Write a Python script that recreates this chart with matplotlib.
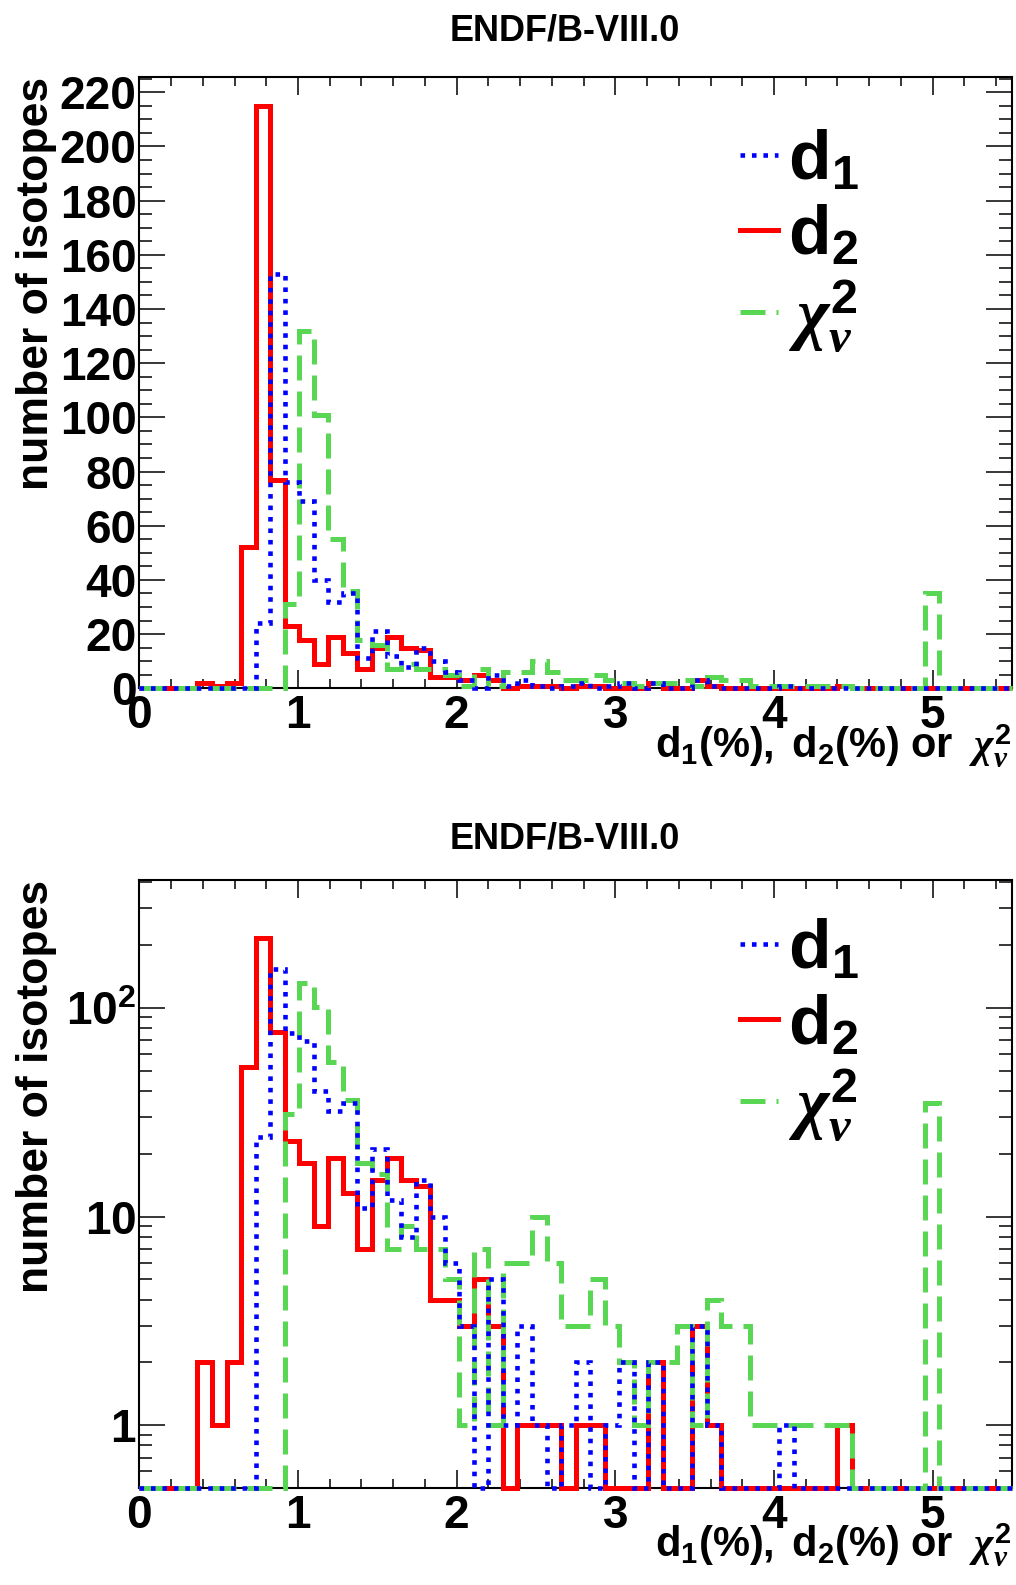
import numpy as np
import matplotlib
matplotlib.use('Agg')
import matplotlib.pyplot as plt
from matplotlib.lines import Line2D
from matplotlib.ticker import MultipleLocator, FixedLocator, FixedFormatter, NullFormatter

plt.rcParams['font.family'] = ['Liberation Sans', 'DejaVu Sans']
plt.rcParams['font.weight'] = 'bold'
plt.rcParams['mathtext.fontset'] = 'custom'
plt.rcParams['mathtext.rm'] = 'Liberation Sans:bold'
plt.rcParams['mathtext.bf'] = 'Liberation Sans:bold'
plt.rcParams['mathtext.it'] = 'Liberation Serif:italic'

# ---------------- data ----------------
x_min, x_max, n_bins = 0.0, 5.5, 60
bin_edges = np.linspace(x_min, x_max, n_bins + 1)

d2_counts = [0, 0, 0, 0, 2, 1, 2, 52, 215, 77,
             23, 18, 9, 19, 13, 7, 15, 19, 15, 14,
             4, 4, 3, 5, 3, 0, 1, 1, 1, 0,
             1, 1, 0, 0, 0, 2, 0, 0, 3, 1,
             0, 0, 0, 0, 0, 0, 0, 0, 1, 0,
             0, 0, 0, 0, 0, 0, 0, 0, 0, 0]

d1_counts = [0, 0, 0, 0, 0, 0, 0, 0, 24, 153,
             76, 69, 40, 32, 35, 11, 21, 12, 8, 15,
             10, 6, 3, 0, 5, 1, 3, 1, 0, 1,
             2, 0, 1, 2, 0, 2, 0, 0, 3, 1,
             0, 0, 0, 0, 1, 0, 0, 0, 0, 0,
             0, 0, 0, 0, 0, 0, 0, 0, 0, 0]

chi2_counts = [0, 0, 0, 0, 0, 0, 0, 0, 0, 0,
               31, 132, 101, 55, 36, 18, 16, 7, 9, 7,
               7, 5, 1, 7, 1, 6, 6, 10, 6, 3,
               3, 5, 3, 2, 1, 2, 2, 3, 1, 4,
               3, 3, 1, 1, 1, 1, 1, 1, 1, 0,
               0, 0, 0, 0, 35, 0, 0, 0, 0, 0]

series_labels = [r'$\mathbf{d_{1}}$', r'$\mathbf{d_{2}}$', r'$\chi^{\mathbf{2}}_{\nu}$']
title_text = 'ENDF/B-VIII.0'
ylabel_text = 'number of isotopes'
xlabel_text = r'$\mathbf{d_{1}(\%),\ d_{2}(\%)\ or}\ \ \chi^{\mathbf{2}}_{\nu}$'
lin_yticks = list(range(0, 221, 20))
log_yticks = [1, 10, 100]
log_yticklabels = [r'$\mathbf{1}$', r'$\mathbf{10}$', r'$\mathbf{10^{2}}$']

# ---------------- styles ----------------
c_blue = '#0000ff'
c_red = '#ff0000'
c_green = '#5ad655'
lw = 3.6
sty_d1 = dict(color=c_blue, lw=3.3, linestyle=(0, (1.0, 1.5)))
sty_d2 = dict(color=c_red, lw=lw, linestyle='-')
sty_chi = dict(color=c_green, lw=lw, linestyle=(0, (5.0, 2.2)))

W, H = 1016, 1585
fig = plt.figure(figsize=(W / 100, H / 100), dpi=100)

ax_l = 139.3 / W
ax_w = (1012 - 139.3) / W
ax_top = fig.add_axes([ax_l, 1 - 688.3 / H, ax_w, (688.3 - 76.7) / H])
ax_bot = fig.add_axes([ax_l, 1 - 1488.0 / H, ax_w, (1488.0 - 880.0) / H])

d1 = np.array(d1_counts, dtype=float)
d2 = np.array(d2_counts, dtype=float)
chi = np.array(chi2_counts, dtype=float)


def draw(ax, logy, leg_y):
    floor = 0.5 if logy else 0.0
    def f(v):
        return np.where(v > 0, v, floor)
    ax.stairs(f(d2), bin_edges, baseline=None, fill=False, clip_on=False, zorder=3, **sty_d2)
    ax.stairs(f(chi), bin_edges, baseline=None, fill=False, clip_on=False, zorder=4, **sty_chi)
    ax.stairs(f(d1), bin_edges, baseline=None, fill=False, clip_on=False, zorder=5, **sty_d1)
    ax.set_xlim(x_min, x_max)
    if logy:
        ax.set_yscale('log')
        ax.set_ylim(0.5, 410)
        ax.yaxis.set_major_locator(FixedLocator(log_yticks))
        ax.yaxis.set_major_formatter(FixedFormatter(log_yticklabels))
        minors = [m * 10.0 ** e for e in range(-1, 3) for m in range(2, 10)]
        ax.yaxis.set_minor_locator(FixedLocator(minors))
        ax.yaxis.set_minor_formatter(NullFormatter())
    else:
        ax.set_ylim(0, 225.75)
        ax.yaxis.set_major_locator(FixedLocator(lin_yticks))
        ax.yaxis.set_minor_locator(MultipleLocator(5))
    ax.xaxis.set_major_locator(MultipleLocator(1))
    ax.xaxis.set_minor_locator(MultipleLocator(0.2))
    ax.tick_params(axis='both', which='both', direction='in', top=True, right=True,
                   width=1.1, labelsize=33, colors='black')
    ax.tick_params(axis='x', which='major', length=13, pad=4)
    ax.tick_params(axis='x', which='minor', length=6.5)
    ax.tick_params(axis='y', which='major', length=18.5, pad=2)
    ax.tick_params(axis='y', which='minor', length=9.4)
    for lab in ax.get_xticklabels() + ax.get_yticklabels():
        lab.set_fontweight('bold')
    for s in ax.spines.values():
        s.set_linewidth(1.5)
    handles = [Line2D([], [], **sty_d1), Line2D([], [], **sty_d2), Line2D([], [], **sty_chi)]
    ax.legend(handles, series_labels, loc='upper left', bbox_to_anchor=(0.688, leg_y),
              frameon=False, fontsize=50, handlelength=0.55, handletextpad=0.15,
              labelspacing=0.15, borderpad=0, borderaxespad=0)
    ax.text(1.0, -0.095, xlabel_text, transform=ax.transAxes, ha='right', va='center',
            fontsize=30)


draw(ax_top, False, 0.916)
draw(ax_bot, True, 0.938)

fig.text(565 / W, 1 - 31 / H, title_text, ha='center', va='center', fontsize=26, fontweight='bold')
fig.text(565 / W, 1 - 839 / H, title_text, ha='center', va='center', fontsize=26, fontweight='bold')
fig.text(37 / W, 1 - 76.7 / H, ylabel_text, rotation=90, ha='center', va='top', fontsize=32, fontweight='bold')
fig.text(37 / W, 1 - 880 / H, ylabel_text, rotation=90, ha='center', va='top', fontsize=32, fontweight='bold')

fig.savefig('out.png', dpi=100)
